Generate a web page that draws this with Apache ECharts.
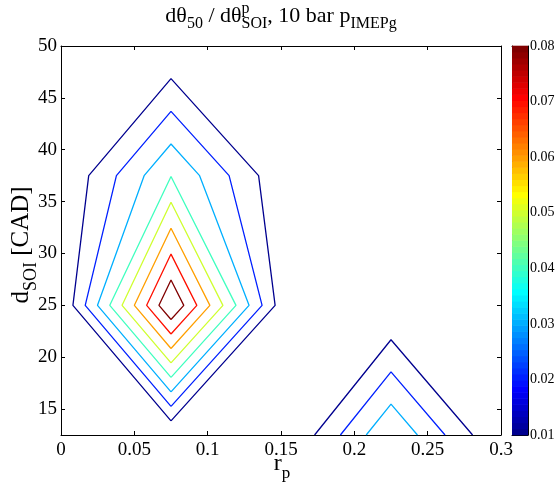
<!DOCTYPE html>
<html><head><meta charset="utf-8">
<script src="https://cdn.jsdelivr.net/npm/echarts@6/dist/echarts.min.js"></script>
<style>html,body{margin:0;padding:0;background:#fff}#c{width:556px;height:489px}</style>
</head><body><div id="c"></div>
<script>
// ---- data ----
const xGrid = [0, 0.075, 0.15, 0.225, 0.3];        // r_p grid
const yGrid = [12.5, 25, 37.5, 50];                // d_SOI grid
const zRow125 = [0, 0.0002, -0.003, 0.0396, -0.0003];
const zRow250 = [0.0003, 0.0898, 0.0055, -0.0007, 0];
const zRow375 = [0, 0.0397, 0.0024, 0, 0];
const zRow500 = [0, 0, 0, 0, 0];
const levels = [0.01, 0.02, 0.03, 0.04, 0.05, 0.06, 0.07, 0.08];
const xTicks = [0, 0.05, 0.1, 0.15, 0.2, 0.25, 0.3];
const yTicks = [15, 20, 25, 30, 35, 40, 45, 50];
const cbarTicks = [0.01, 0.02, 0.03, 0.04, 0.05, 0.06, 0.07, 0.08];

const Z = [zRow125, zRow250, zRow375, zRow500];
const FONT = '"Liberation Serif", "Times New Roman", serif';

// MATLAB jet(64)
function jet(m) {
  const n = Math.ceil(m / 4);
  const u = [];
  for (let i = 1; i <= n; i++) u.push(i / n);
  for (let i = 1; i < n; i++) u.push(1);
  for (let i = n; i >= 1; i--) u.push(i / n);
  const g0 = Math.ceil(n / 2) - (m % 4 === 1 ? 1 : 0);
  const J = Array.from({length: m}, () => [0, 0, 0]);
  for (let p = 0; p < u.length; p++) {
    const g = g0 + p + 1, r = g + n, b = g - n;
    if (r >= 1 && r <= m) J[r - 1][0] = u[p];
    if (g >= 1 && g <= m) J[g - 1][1] = u[p];
    if (b >= 1 && b <= m) J[b - 1][2] = u[p];
  }
  return J.map(c => 'rgb(' + c.map(v => Math.round(v * 255)).join(',') + ')');
}
const cmap = jet(64);
const cmin = levels[0], cmax = levels[levels.length - 1];
function levelColor(L) {
  let idx = Math.floor((L - cmin) / (cmax - cmin) * 64 + 1e-9);
  idx = Math.max(0, Math.min(63, idx));
  return cmap[idx];
}

// marching squares
function contourSegments(L) {
  const segs = [];
  for (let j = 0; j < yGrid.length - 1; j++) for (let i = 0; i < xGrid.length - 1; i++) {
    const x0 = xGrid[i], x1 = xGrid[i + 1], y0 = yGrid[j], y1 = yGrid[j + 1];
    const a = Z[j][i], b = Z[j][i + 1], c = Z[j + 1][i + 1], d = Z[j + 1][i];
    const cr = (p, q) => (p < L) !== (q < L);
    const pts = [];
    if (cr(a, b)) pts.push({k: 'h' + j + '_' + i, p: [x0 + (L - a) / (b - a) * (x1 - x0), y0]});
    if (cr(b, c)) pts.push({k: 'v' + j + '_' + (i + 1), p: [x1, y0 + (L - b) / (c - b) * (y1 - y0)]});
    if (cr(d, c)) pts.push({k: 'h' + (j + 1) + '_' + i, p: [x0 + (L - d) / (c - d) * (x1 - x0), y1]});
    if (cr(a, d)) pts.push({k: 'v' + j + '_' + i, p: [x0, y0 + (L - a) / (d - a) * (y1 - y0)]});
    if (pts.length === 2) segs.push([pts[0], pts[1]]);
    else if (pts.length === 4) {
      const ctr = (a + b + c + d) / 4;
      if ((a >= L) === (ctr >= L)) { segs.push([pts[0], pts[1]]); segs.push([pts[2], pts[3]]); }
      else { segs.push([pts[0], pts[3]]); segs.push([pts[1], pts[2]]); }
    }
  }
  return segs;
}
function chain(segs) {
  const used = segs.map(() => false), map = {};
  segs.forEach((s, idx) => s.forEach(e => { (map[e.k] = map[e.k] || []).push(idx); }));
  const isOpen = s => s.some(e => map[e.k].length === 1) ? 0 : 1;
  const order = segs.map((s, i) => i).sort((p, q) => isOpen(segs[p]) - isOpen(segs[q]));
  const lines = [];
  for (const st of order) {
    if (used[st]) continue;
    used[st] = true;
    const s = segs[st];
    let first = s[0], cur = s[1];
    if (map[s[1].k].length === 1 && map[s[0].k].length > 1) { first = s[1]; cur = s[0]; }
    const line = [first.p, cur.p];
    for (;;) {
      const nxt = map[cur.k].find(i => !used[i]);
      if (nxt === undefined) break;
      used[nxt] = true;
      const t = segs[nxt];
      cur = t[0].k === cur.k ? t[1] : t[0];
      line.push(cur.p);
    }
    lines.push(line);
  }
  return lines;
}

const series = [];
levels.forEach(L => {
  chain(contourSegments(L)).forEach(line => {
    series.push({
      type: 'line', xAxisIndex: 0, yAxisIndex: 0, data: line,
      symbol: 'none', showSymbol: false, silent: true, animation: false,
      lineStyle: {color: levelColor(L), width: 1.3}, z: 3
    });
  });
});
// colorbar cells
series.push({
  type: 'custom', xAxisIndex: 2, yAxisIndex: 2, silent: true, animation: false,
  data: cmap.map((c, k) => [0, cmin + k * (cmax - cmin) / 64, k]),
  renderItem: (params, api) => {
    const k = api.value(2);
    const lo = cmin + k * (cmax - cmin) / 64, hi = cmin + (k + 1) * (cmax - cmin) / 64;
    const p0 = api.coord([0, hi]), p1 = api.coord([1, lo]);
    return {type: 'rect', shape: {x: p0[0], y: p0[1] - 0.3, width: p1[0] - p0[0], height: p1[1] - p0[1] + 0.6},
      style: {fill: cmap[k]}};
  }
});

// text builder with sub/superscripts
const mctx = document.createElement('canvas').getContext('2d');
function tw(t, s) { mctx.font = s + 'px ' + FONT; return mctx.measureText(t).width; }
function richText(pieces, cx, by, rotation) {
  let W = 0;
  pieces.forEach(p => { p.w = p.stack ? Math.max(...p.stack.map(q => tw(q.t, q.s))) : tw(p.t, p.s); W += p.w; });
  const children = [];
  let x = -W / 2;
  const add = (q, xx) => children.push({type: 'text', x: xx, y: (q.dy || 0) - 0.33 * q.s,
    style: {text: q.t, font: q.s + 'px ' + FONT, fill: '#000', textAlign: 'left', textVerticalAlign: 'middle'}});
  pieces.forEach(p => { if (p.stack) p.stack.forEach(q => add(q, x)); else add(p, x); x += p.w; });
  return {type: 'group', x: cx, y: by, rotation: rotation || 0, children, silent: true};
}

const titleG = richText([
  {t: 'dθ', s: 22}, {t: '50', s: 16, dy: 6}, {t: ' / dθ', s: 22},
  {stack: [{t: 'p', s: 16, dy: -9}, {t: 'SOI', s: 16, dy: 6}]},
  {t: ', 10 bar p', s: 22}, {t: 'IMEPg', s: 16, dy: 6}
], 281, 23);
const xLab = richText([{t: 'r', s: 24}, {t: 'p', s: 17, dy: 7}], 282, 472);
const yLab = richText([{t: 'd', s: 25}, {t: 'SOI', s: 18, dy: 7}, {t: ' [CAD]', s: 25}], 30, 245, Math.PI / 2);

const blk = {color: '#000', width: 1};
const hidden = {show: false};
const option = {
  animation: false,
  backgroundColor: '#fff',
  grid: [
    {left: 61, top: 46, width: 440, height: 389, outerBoundsMode: 'none'},
    {left: 512, top: 46, width: 16, height: 389, outerBoundsMode: 'none'}
  ],
  xAxis: [
    {gridIndex: 0, type: 'value', min: 0, max: 0.3, position: 'bottom',
      axisLine: {onZero: false, lineStyle: blk},
      axisTick: {inside: true, length: 4, customValues: xTicks, lineStyle: blk},
      axisLabel: {customValues: xTicks, color: '#000', fontFamily: FONT, fontSize: 19, margin: 6,
        formatter: v => String(+(+v).toFixed(3))},
      splitLine: hidden},
    {gridIndex: 0, type: 'value', min: 0, max: 0.3, position: 'top',
      axisLine: {onZero: false, lineStyle: blk},
      axisTick: {inside: true, length: 4, customValues: xTicks, lineStyle: blk},
      axisLabel: hidden, splitLine: hidden},
    {gridIndex: 1, type: 'value', min: 0, max: 1, position: 'bottom',
      axisLine: {onZero: false, lineStyle: blk}, axisTick: hidden, axisLabel: hidden, splitLine: hidden},
    {gridIndex: 1, type: 'value', min: 0, max: 1, position: 'top',
      axisLine: {onZero: false, lineStyle: blk}, axisTick: hidden, axisLabel: hidden, splitLine: hidden}
  ],
  yAxis: [
    {gridIndex: 0, type: 'value', min: 12.5, max: 50, position: 'left',
      axisLine: {onZero: false, lineStyle: blk},
      axisTick: {inside: true, length: 4, customValues: yTicks, lineStyle: blk},
      axisLabel: {customValues: yTicks, color: '#000', fontFamily: FONT, fontSize: 19, margin: 4},
      splitLine: hidden},
    {gridIndex: 0, type: 'value', min: 12.5, max: 50, position: 'right',
      axisLine: {onZero: false, lineStyle: blk},
      axisTick: {inside: true, length: 4, customValues: yTicks, lineStyle: blk},
      axisLabel: hidden, splitLine: hidden},
    {gridIndex: 1, type: 'value', min: cmin, max: cmax, position: 'right',
      axisLine: {onZero: false, lineStyle: blk},
      axisTick: {inside: true, length: 3, customValues: cbarTicks, lineStyle: blk},
      axisLabel: {customValues: cbarTicks, color: '#000', fontFamily: FONT, fontSize: 14, margin: 2,
        formatter: v => (+v).toFixed(2)},
      splitLine: hidden},
    {gridIndex: 1, type: 'value', min: cmin, max: cmax, position: 'left',
      axisLine: {onZero: false, lineStyle: blk},
      axisTick: {inside: true, length: 3, customValues: cbarTicks, lineStyle: blk},
      axisLabel: hidden, splitLine: hidden}
  ],
  graphic: [titleG, xLab, yLab],
  series
};
const chart = echarts.init(document.getElementById('c'), null, {renderer: 'canvas'});
chart.setOption(option);
</script>
</body></html>
